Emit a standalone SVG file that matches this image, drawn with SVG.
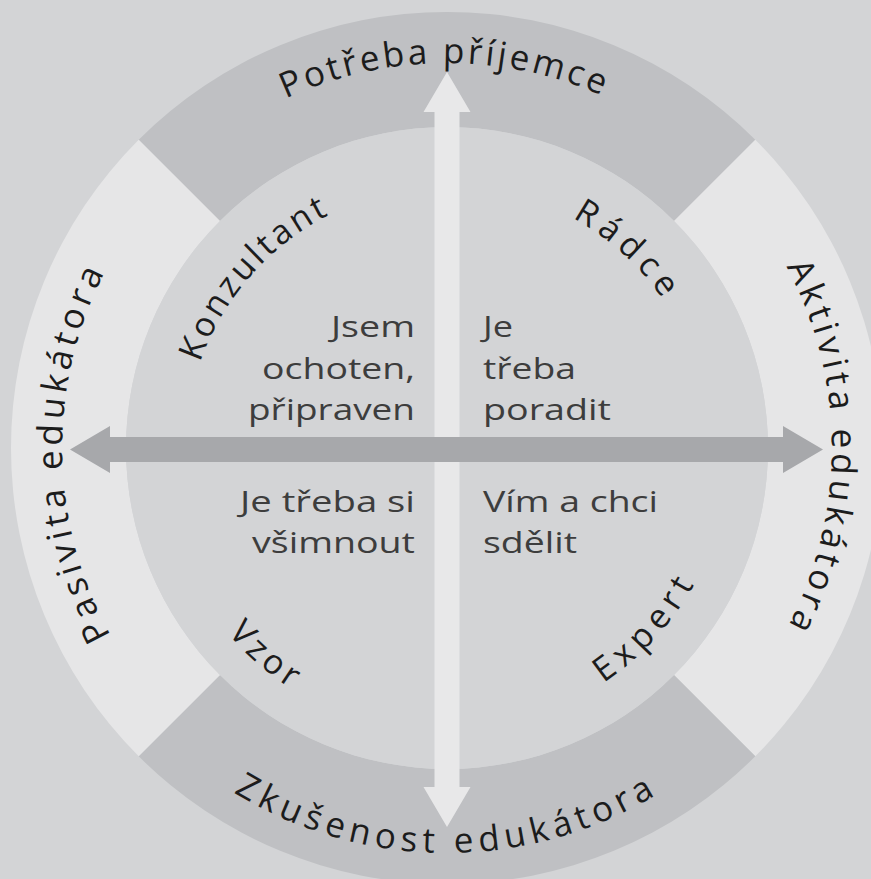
<svg xmlns="http://www.w3.org/2000/svg" width="871" height="879" viewBox="0 0 871 879">
  <style>
    .ring-dark { fill: #bfc0c3; }
    .ring-light { fill: #e6e6e7; }
    .ring-label { font-family: "Open Sans", "Noto Sans", sans-serif; font-size: 35px; fill: #1c1c1c; letter-spacing: 3px; }
    .role { font-family: "Open Sans", "Noto Sans", sans-serif; font-size: 34px; fill: #1c1c1c; letter-spacing: 3px; }
    .body { font-family: "Open Sans", "Noto Sans", sans-serif; font-size: 29px; fill: #3d3d3d; }
  </style>
  <defs>
    <path id="arcTop" d="M 62 448 A 385 385 0 0 1 832 448"/>
    <path id="arcRight" d="M 447 63 A 385 385 0 0 1 447 833"/>
    <path id="arcBottom" d="M 42 448 A 405 405 0 0 0 852 448"/>
    <path id="arcLeft" d="M 447 833 A 385 385 0 0 1 447 63"/>
    <path id="arcKonz" d="M 197.8 529 A 263 263 0 0 1 501.5 191.7"/>
    <path id="arcRadce" d="M 366 198.8 A 262 262 0 0 1 703.3 502.5"/>
    <path id="arcVzor" d="M 166.3 393.4 A 285 285 0 0 0 540.1 718.4"/>
    <path id="arcExpert" d="M 387.5 727.7 A 290 290 0 0 0 719 359.6"/>
  </defs>
  <rect x="0" y="0" width="871" height="879" fill="#d3d4d6"/>

  <g id="ring-top">
    <path class="ring-dark" d="M 138.7 139.7 A 436 436 0 0 1 755.3 139.7 L 674 221 A 321 321 0 0 0 220 221 Z"/>
    <text class="ring-label"><textPath href="#arcTop" startOffset="49.8%" text-anchor="middle">Potřeba příjemce</textPath></text>
  </g>
  <g id="ring-right">
    <path class="ring-light" d="M 755.3 139.7 A 436 436 0 0 1 755.3 756.3 L 674 675 A 321 321 0 0 0 674 221 Z"/>
    <text class="ring-label" style="letter-spacing:4.5px"><textPath href="#arcRight" startOffset="50%" text-anchor="middle">Aktivita edukátora</textPath></text>
  </g>
  <g id="ring-bottom">
    <path class="ring-dark" d="M 755.3 756.3 A 436 436 0 0 1 138.7 756.3 L 220 675 A 321 321 0 0 0 674 675 Z"/>
    <text class="ring-label" style="letter-spacing:5.5px"><textPath href="#arcBottom" startOffset="50%" text-anchor="middle">Zkušenost edukátora</textPath></text>
  </g>
  <g id="ring-left">
    <path class="ring-light" d="M 138.7 756.3 A 436 436 0 0 1 138.7 139.7 L 220 221 A 321 321 0 0 0 220 675 Z"/>
    <text class="ring-label" style="letter-spacing:4.5px"><textPath href="#arcLeft" startOffset="49.6%" text-anchor="middle">Pasivita edukátora</textPath></text>
  </g>

  <g id="inner-circle">
    <circle cx="447" cy="448" r="321" fill="#d3d4d6"/>
  </g>

  <g id="connectors">
    <polygon fill="#e8e8e9" points="447,72 470.5,112 459.5,112 459.5,787 470.5,787 447,827 423.5,787 434.5,787 434.5,112 423.5,112"/>
    <polygon fill="#a7a8ab" points="70,449.5 110,426 110,437 783,437 783,426 823,449.5 783,473 783,462 110,462 110,473"/>
  </g>

  <g id="konzultant">
    <text class="role" style="letter-spacing:3.2px"><textPath href="#arcKonz" startOffset="49.5%" text-anchor="middle">Konzultant</textPath></text>
    <text class="body" text-anchor="end" x="415" y="337" textLength="84" lengthAdjust="spacingAndGlyphs">Jsem</text>
    <text class="body" text-anchor="end" x="415" y="379" textLength="153" lengthAdjust="spacingAndGlyphs">ochoten,</text>
    <text class="body" text-anchor="end" x="415" y="420" textLength="167" lengthAdjust="spacingAndGlyphs">připraven</text>
  </g>
  <g id="radce">
    <text class="role" style="letter-spacing:6.5px"><textPath href="#arcRadce" startOffset="50.5%" text-anchor="middle">Rádce</textPath></text>
    <text class="body" x="483" y="337" textLength="30" lengthAdjust="spacingAndGlyphs">Je</text>
    <text class="body" x="483" y="379" textLength="93" lengthAdjust="spacingAndGlyphs">třeba</text>
    <text class="body" x="483" y="420" textLength="128" lengthAdjust="spacingAndGlyphs">poradit</text>
  </g>
  <g id="vzor">
    <text class="role" style="letter-spacing:4.5px"><textPath href="#arcVzor" startOffset="50%" text-anchor="middle">Vzor</textPath></text>
    <text class="body" text-anchor="end" x="415" y="512" textLength="175" lengthAdjust="spacingAndGlyphs">Je třeba si</text>
    <text class="body" text-anchor="end" x="415" y="553" textLength="163" lengthAdjust="spacingAndGlyphs">všimnout</text>
  </g>
  <g id="expert">
    <text class="role" style="letter-spacing:6.5px"><textPath href="#arcExpert" startOffset="50%" text-anchor="middle">Expert</textPath></text>
    <text class="body" x="483" y="512" textLength="175" lengthAdjust="spacingAndGlyphs">Vím a chci</text>
    <text class="body" x="483" y="553" textLength="94" lengthAdjust="spacingAndGlyphs">sdělit</text>
  </g>
</svg>
